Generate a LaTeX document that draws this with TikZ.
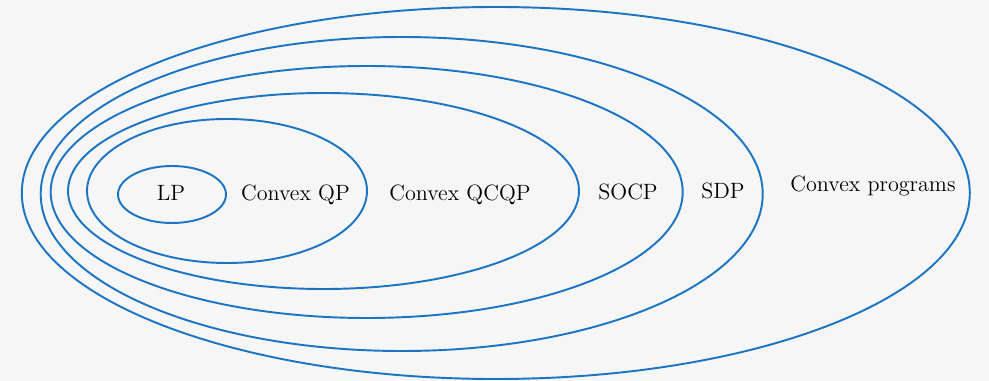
\documentclass[tikz,border=0pt]{standalone}
\usepackage{tikz}
\definecolor{setblue}{RGB}{28,117,196}
\definecolor{paper}{RGB}{246,246,246}
\tikzset{
  classline/.style={draw=setblue, line width=1.1pt},
  classname/.style={font=\fontsize{12.6}{15}\selectfont, anchor=base, inner sep=0pt}
}

\begin{document}
\begin{tikzpicture}[x={(0.02cm,0cm)}, y={(0cm,-0.02cm)}]
\fill[paper] (0,0) rectangle (989,381);
\useasboundingbox (0,0) rectangle (989,381);
%nested classes, outer to inner: centre x, centre y, x radius, y radius
\foreach \cx/\cy/\rx/\ry in {495.8/193/474/186, 401.7/194/361/157, 366.7/192/316/126, 323.5/191/255.5/98, 227/191/140/72, 172/194.5/54/28.5}{
\draw[classline] (\cx,\cy) ellipse ({\rx} and {\ry});
}
%labels
\node[classname] (lp) at (171,200.7) {LP};
\node[classname] (qp) at (295.5,201) {Convex QP};
\node[classname] (qcqp) at (460,201) {Convex QCQP};
\node[classname] (socp) at (628,199.3) {SOCP};
\node[classname] (sdp) at (723,198.3) {SDP};
\node[classname] (cvx) at (873,191.7) {Convex programs};
\end{tikzpicture}
\end{document}
